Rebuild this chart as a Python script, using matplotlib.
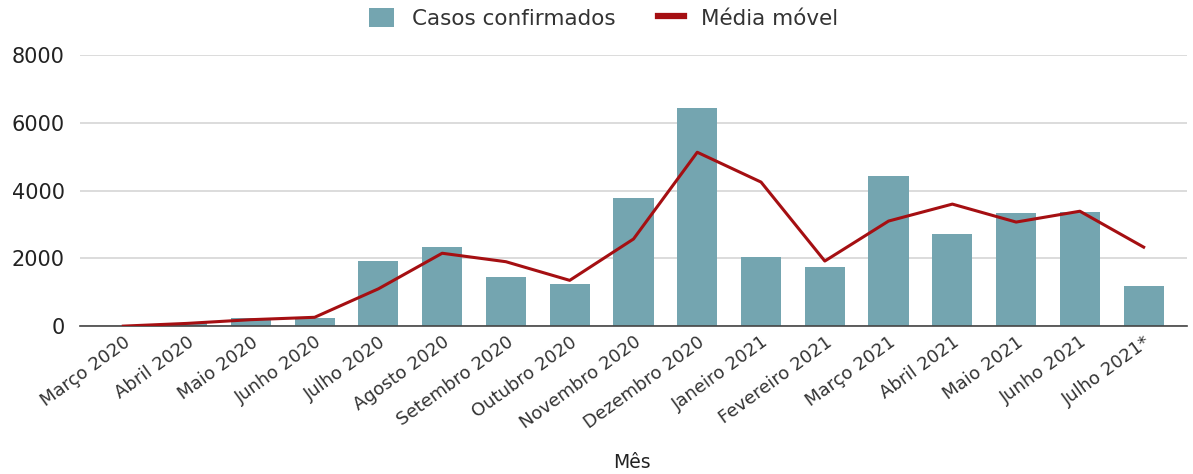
import matplotlib.pyplot as plt

meses = ['Março 2020', 'Abril 2020', 'Maio 2020', 'Junho 2020', 'Julho 2020',
         'Agosto 2020', 'Setembro 2020', 'Outubro 2020', 'Novembro 2020',
         'Dezembro 2020', 'Janeiro 2021', 'Fevereiro 2021', 'Março 2021',
         'Abril 2021', 'Maio 2021', 'Junho 2021', 'Julho 2021*']

casos = [10, 80, 240, 250, 1920, 2330, 1450, 1240, 3780,
         6430, 2040, 1740, 4430, 2710, 3330, 3360, 1180]

media_movel = [0, 80, 190, 260, 1100, 2150, 1900, 1350, 2570,
               5130, 4250, 1920, 3100, 3600, 3070, 3390, 2330]

plt.rcParams['font.family'] = ['DejaVu Sans']

fig = plt.figure(figsize=(11.93, 4.74), dpi=100)
ax = fig.add_axes([0.067, 0.312, 0.928, 0.572])

x = range(len(meses))
bars = ax.bar(x, casos, width=0.63, color='#74a5b0', label='Casos confirmados', zorder=2)
line, = ax.plot(x, media_movel, color='#a50f12', linewidth=2.2, label='Média móvel', zorder=3)

ax.set_xlim(-0.68, len(meses) - 0.32)
ax.set_ylim(0, 8000)
ax.set_yticks([0, 2000, 4000, 6000, 8000])
ax.yaxis.grid(True, color='#d6d6d6', linewidth=1.2, zorder=0)
ax.set_axisbelow(True)

for s in ['top', 'right', 'left']:
    ax.spines[s].set_visible(False)
ax.spines['bottom'].set_color('#444444')
ax.spines['bottom'].set_linewidth(1.2)
ax.tick_params(axis='both', length=0, colors='#222222')
ax.tick_params(axis='y', pad=11, labelsize=15)
ax.tick_params(axis='x', pad=5)

ax.set_xticks(list(x))
ax.set_xticklabels(meses, rotation=36, ha='right', rotation_mode='anchor',
                   fontsize=13, color='#333333')

fig.text(0.53, 0.025, 'Mês', ha='center', va='center', fontsize=13.5, color='#222222')

leg = ax.legend([bars, line], ['Casos confirmados', 'Média móvel'],
                loc='lower center', bbox_to_anchor=(0.473, 1.025), ncol=2, frameon=False,
                fontsize=15.5, handlelength=1.2, handleheight=1.0, columnspacing=2.0,
                labelcolor='#333333')
leg.get_lines()[0].set_linewidth(4.5)

fig.savefig('out.png', dpi=100, facecolor='white')
